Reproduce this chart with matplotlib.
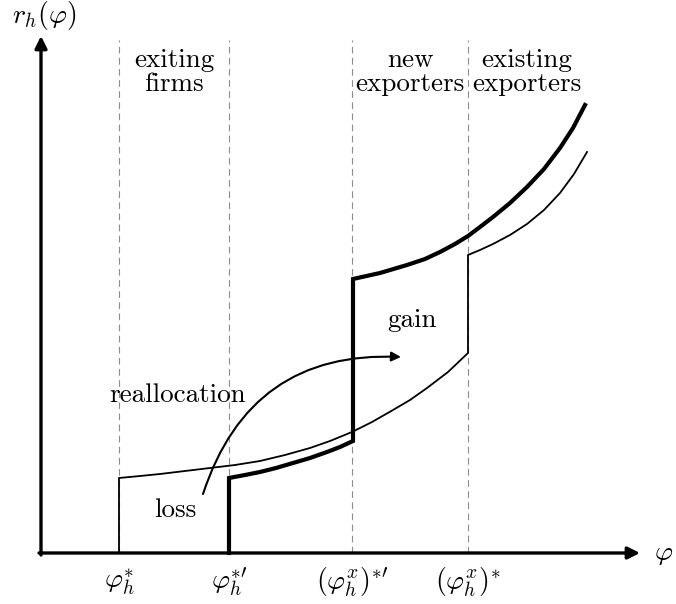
import matplotlib
matplotlib.use("Agg")
import matplotlib.pyplot as plt

plt.rcParams['mathtext.fontset'] = 'cm'
plt.rcParams['axes.unicode_minus'] = False

# cutoffs on the phi axis (picture units)
cutoffs = [119, 229, 352, 468]
cutoff_labels = [r"$\varphi_h^{*}$", r"$\varphi_h^{*\prime}$",
                 r"$(\varphi_h^x)^{*\prime}$", r"$(\varphi_h^x)^{*}$"]

# old revenue curve (thin)
old_phi = [119, 119, 140, 160, 185, 210, 235, 260, 285, 310, 330, 352, 372, 393,
           410, 427, 448, 468, 468, 480, 493, 510, 527, 544, 560, 574, 587]
old_r = [553, 478, 476, 474, 471, 468, 465, 461, 455, 448, 441, 432, 422, 410,
         400, 388, 372, 353, 255, 250, 244, 235, 224, 210, 193, 174, 152]

# new revenue curve (thick)
new_phi = [229, 229, 245, 260, 276, 293, 310, 327, 340, 353, 353, 380, 407, 425,
           440, 455, 468, 480, 493, 510, 527, 544, 560, 573, 585]
new_r = [553, 478, 475, 472, 468, 463, 458, 452, 447, 441, 279, 273, 265, 259,
         252, 244, 236, 227, 217, 203, 187, 169, 148, 128, 105]

regions = ["exiting\nfirms", "new\nexporters", "existing\nexporters"]
region_x = [174, 410, 527]

fig = plt.figure(figsize=(6.76, 6.04), dpi=100)
ax = fig.add_axes([0, 0, 1, 1])
ax.set_xlim(0, 676)
ax.set_ylim(604, 0)
ax.axis('off')

# dashed cutoff guides
for c in cutoffs:
    ax.plot([c, c], [553, 40], color='0.55', lw=0.8, dashes=(6, 4))

ax.plot(old_phi, old_r, color='k', lw=1.3, solid_joinstyle='miter')
ax.plot(new_phi, new_r, color='k', lw=3.0, solid_joinstyle='miter')

# axes arrows
ax.annotate('', xy=(640, 553), xytext=(39, 553),
            arrowprops=dict(arrowstyle='-|>', lw=2.4, color='k',
                            shrinkA=0, shrinkB=0, mutation_scale=18))
ax.annotate('', xy=(41, 36), xytext=(41, 555),
            arrowprops=dict(arrowstyle='-|>', lw=2.4, color='k',
                            shrinkA=0, shrinkB=0, mutation_scale=18))

# reallocation arrow
ax.annotate('', xy=(401, 357), xytext=(203, 494),
            arrowprops=dict(arrowstyle='-|>', lw=1.5, color='k',
                            connectionstyle='arc3,rad=-0.38',
                            shrinkA=0, shrinkB=0, mutation_scale=14))

tf = dict(fontfamily='cmr10', fontsize=19.5, ha='center', va='center')
for lab, x in zip(regions, region_x):
    ax.text(x, 72, lab, linespacing=1.0, **tf)
ax.text(178, 395, "reallocation", **tf)
ax.text(175, 510, "loss", **tf)
ax.text(412, 320, "gain", **tf)

for c, lab in zip(cutoffs, cutoff_labels):
    ax.text(c, 582, lab, fontsize=20, ha='center', va='center')
ax.text(664, 553, r"$\varphi$", fontsize=20, ha='center', va='center')
ax.text(44, 16, r"$r_h(\varphi)$", fontsize=20, ha='center', va='center')

fig.savefig("out.png", dpi=100)
